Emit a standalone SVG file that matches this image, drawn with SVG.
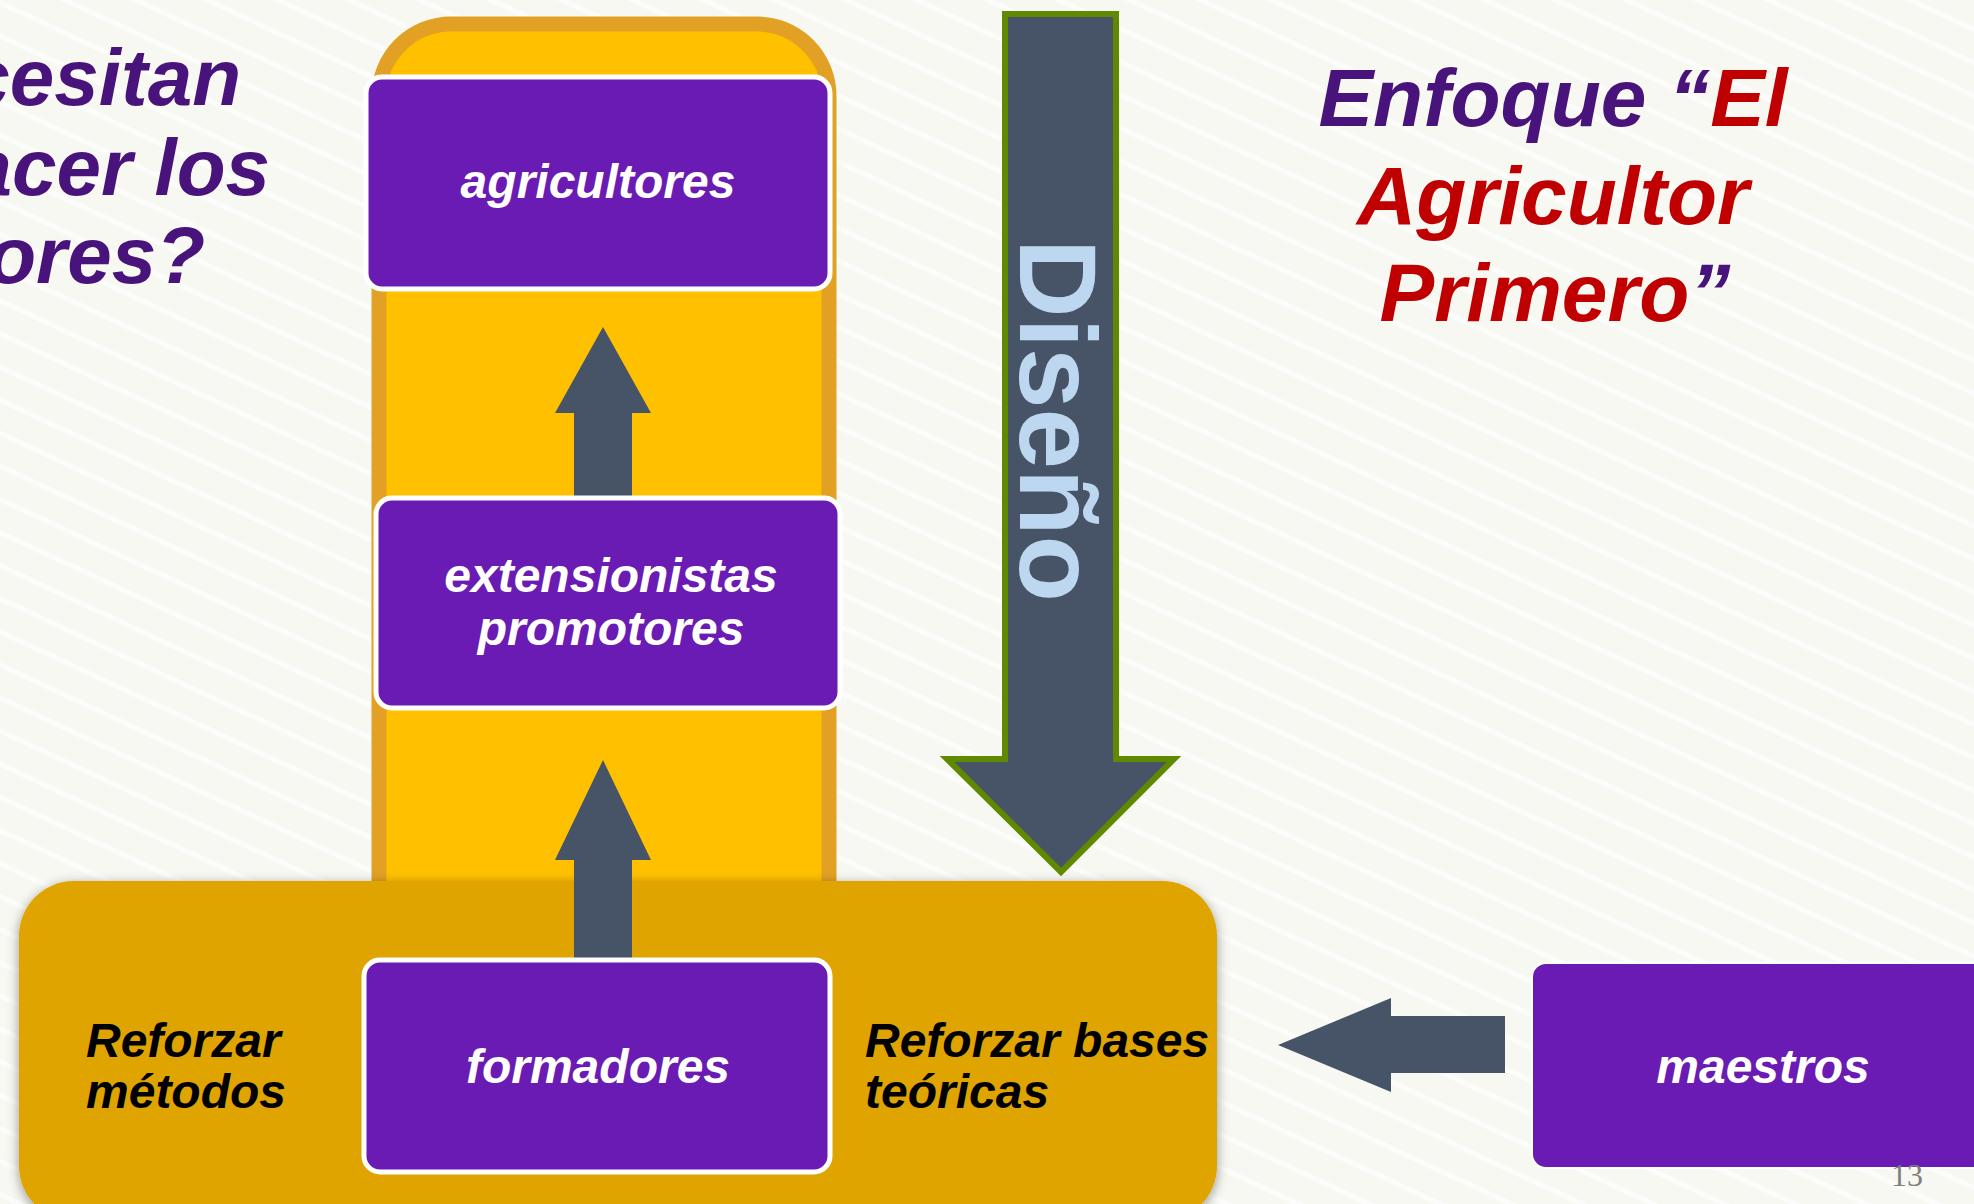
<svg xmlns="http://www.w3.org/2000/svg" width="1974" height="1204" viewBox="0 0 1974 1204">
<defs>
<style>
.t{font-family:"Liberation Sans",Arial,sans-serif;font-weight:bold;font-style:italic}
.box{fill:#6A1BB3;stroke:#FFFFFF;stroke-width:5}
.lbl{fill:#FFFFFF;font-size:48px;text-anchor:middle}
.blk{fill:#000000;font-size:48px}
.arr{fill:#475467}
.pur{fill:#48137A}
.red{fill:#C00000}
</style>
<pattern id="bg" width="30" height="30" patternUnits="userSpaceOnUse" patternTransform="rotate(25)">
<rect width="30" height="30" fill="#F8F8F3"/>
<rect width="30" height="5" fill="#FFFFFF" opacity="0.6"/>
</pattern>
<filter id="sh" x="-5%" y="-10%" width="110%" height="120%">
<feDropShadow dx="0" dy="3" stdDeviation="6" flood-color="#000" flood-opacity="0.4"/>
</filter>
</defs>
<rect width="1974" height="1204" fill="url(#bg)"/>
<g id="question">
<text class="t pur" font-size="80" text-anchor="end" x="241" y="105">necesitan</text>
<text class="t pur" font-size="80" text-anchor="end" x="270" y="195">hacer los</text>
<text class="t pur" font-size="80" text-anchor="end" x="205" y="283">formadores?</text>
</g>
<g id="title">
<text class="t" font-size="82" text-anchor="middle" x="1553" y="126"><tspan class="pur">Enfoque “</tspan><tspan class="red">El</tspan></text>
<text class="t red" font-size="82" text-anchor="middle" x="1553" y="224">Agricultor</text>
<text class="t" font-size="82" text-anchor="middle" x="1555" y="321"><tspan class="red">Primero</tspan><tspan class="pur">”</tspan></text>
</g>
<g id="column">
<path d="M379,890 V96 A72,72 0 0 1 451,24 H757 A72,72 0 0 1 829,96 V890 Z" fill="#FFC000" stroke="#E2A124" stroke-width="15"/>
</g>
<g id="base">
<rect x="19" y="881" width="1198" height="340" rx="55" fill="#DFA400" filter="url(#sh)"/>
<text class="t blk" x="86" y="1057">Reforzar</text>
<text class="t blk" x="86" y="1108">métodos</text>
<text class="t blk" x="865" y="1057">Reforzar bases</text>
<text class="t blk" x="865" y="1108">teóricas</text>
</g>
<g id="connectors">
<polygon class="arr" points="603,327 651,413 632,413 632,497 574,497 574,413 555,413"/>
<polygon class="arr" points="603,760 651,860 632,860 632,959 574,959 574,860 555,860"/>
<polygon class="arr" points="1278,1045 1391,998 1391,1016 1505,1016 1505,1073 1391,1073 1391,1092"/>
</g>
<g id="diseno">
<polygon points="1005,14 1116,14 1116,759 1174,759 1061,872 947,759 1005,759" fill="#475467" stroke="#5F8A00" stroke-width="6"/>
<text transform="translate(1020,239) rotate(90)" font-family="'Liberation Sans',Arial,sans-serif" font-weight="bold" font-size="110" fill="#BDD7F0" textLength="363" lengthAdjust="spacingAndGlyphs">Diseño</text>
</g>
<g id="agricultores">
<rect class="box" x="366" y="77" width="464" height="212" rx="16"/>
<text class="t lbl" x="598" y="198">agricultores</text>
</g>
<g id="extensionistas">
<rect class="box" x="376" y="498" width="464" height="210" rx="16"/>
<text class="t lbl" x="611" y="592">extensionistas</text>
<text class="t lbl" x="611" y="645">promotores</text>
</g>
<g id="formadores">
<rect class="box" x="364" y="960" width="466" height="212" rx="16"/>
<text class="t lbl" x="598" y="1083">formadores</text>
</g>
<g id="maestros">
<rect x="1532" y="963" width="470" height="205" rx="14" fill="#6A1BB3" stroke="#FFFFFF" stroke-width="2"/>
<text class="t lbl" x="1763" y="1083">maestros</text>
</g>
<text x="1907" y="1186" font-family="'Liberation Serif',serif" font-size="32" fill="#808080" text-anchor="middle">13</text>
</svg>
